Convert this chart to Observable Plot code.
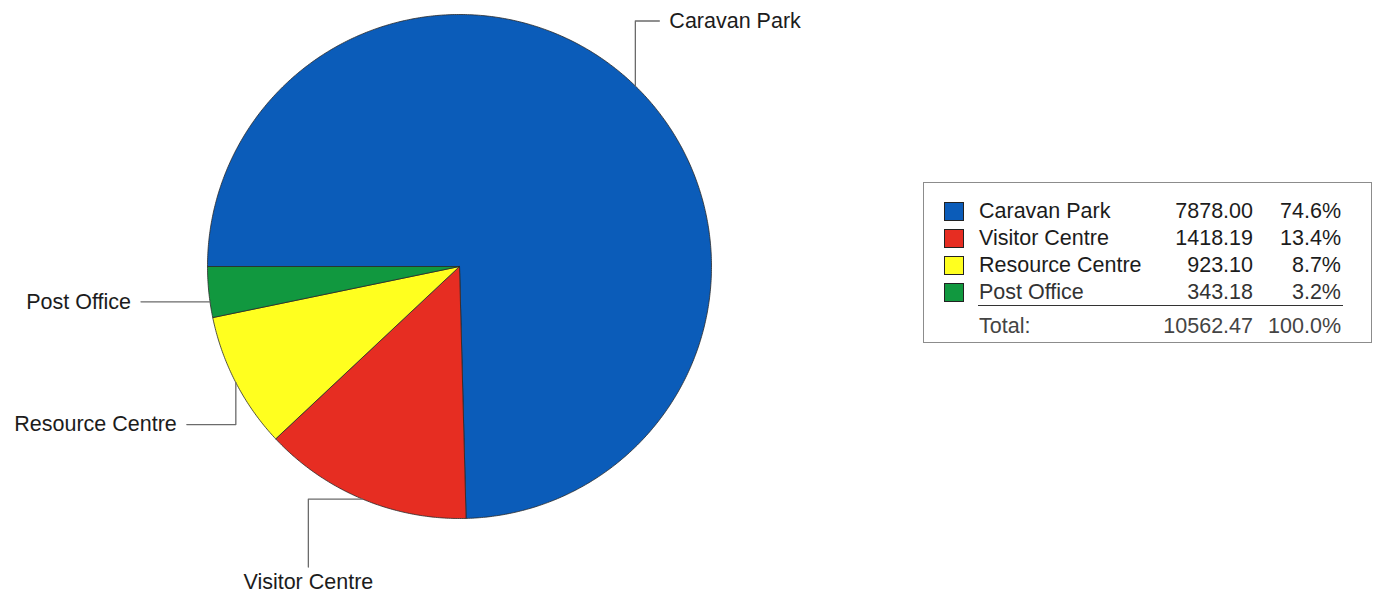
<!DOCTYPE html>
<html><head><meta charset="utf-8">
<script src="https://cdn.jsdelivr.net/npm/d3@7"></script>
<script src="https://cdn.jsdelivr.net/npm/@observablehq/plot@0.6"></script>
<style>
body{margin:0;background:#fff;font-family:"Liberation Sans",Arial,sans-serif;}
#wrap{position:relative;width:1377px;height:594px;overflow:hidden;}
#legend{position:absolute;left:923px;top:182px;width:449px;height:161px;border:1px solid #8c8c8c;box-sizing:border-box;background:#fff;}
.row{position:absolute;left:0;width:100%;height:26.7px;line-height:26.7px;font-size:21.5px;color:#1c1c1c;}
.sw{position:absolute;left:20px;top:4px;width:18px;height:17px;border:1.5px solid #222;}
.nm{position:absolute;left:55px;}
.vl{position:absolute;right:118px;}
.pc{position:absolute;right:30px;}
.sep{position:absolute;left:54px;width:365px;top:122px;border-top:1.5px solid #333;}
</style></head><body><div id="wrap"></div>
<script>
// ---- data ----
const categories = ["Caravan Park", "Visitor Centre", "Resource Centre", "Post Office"];
const values = [7878.00, 1418.19, 923.10, 343.18];
const colors = ["#0b5cb9", "#e62d22", "#ffff1f", "#11983f"];
const totalLabel = "Total:";

// ---- layout ----
const W = 1377, H = 594, CX = 459, CY = 266, R = 252;
const leaderLayout = {
  "Caravan Park":    {shift: 0, moves: [[0, -65], [24, 0]], anchor: "start", off: [10, 0]},
  "Visitor Centre":  {shift: 0, moves: [[-54, 0], [0, 68]], anchor: "middle", off: [0, 15]},
  "Resource Centre": {shift: 0, moves: [[0, 42], [-49, 0]], anchor: "end", off: [-10, 0]},
  "Post Office":     {shift: -2.2, moves: [[-69, 0]], anchor: "end", off: [-10, 0]}
};

const total = d3.sum(values);
const table = categories.map((name, i) => ({name, value: values[i], pct: values[i] / total}));
const arcs = d3.pie().value(d => d.value).sort(null).startAngle(-Math.PI / 2).endAngle(3 * Math.PI / 2)(table);

// slice polygons in radius units (y up)
const slicePts = [];
for (const a of arcs) {
  const n = Math.max(2, Math.ceil((a.endAngle - a.startAngle) / (Math.PI / 360)));
  slicePts.push({name: a.data.name, x: 0, y: 0});
  for (let k = 0; k <= n; k++) {
    const t = a.startAngle + (a.endAngle - a.startAngle) * k / n;
    slicePts.push({name: a.data.name, x: Math.sin(t), y: Math.cos(t)});
  }
  slicePts.push({name: a.data.name, x: 0, y: 0});
}

// leader lines
const leaderPts = [];
const textMarks = [];
for (const a of arcs) {
  const L = leaderLayout[a.data.name];
  const mid = (a.startAngle + a.endAngle) / 2 + L.shift * Math.PI / 180;
  let px = Math.sin(mid), py = Math.cos(mid);
  leaderPts.push({name: a.data.name, x: px, y: py});
  for (const [mx, my] of L.moves) {
    px += mx / R; py -= my / R;
    leaderPts.push({name: a.data.name, x: px, y: py});
  }
  textMarks.push(Plot.text([{name: a.data.name, x: px + L.off[0] / R, y: py - L.off[1] / R}], {
    x: "x", y: "y", text: "name", textAnchor: L.anchor, fontSize: 21.5, fill: "#1c1c1c"
  }));
}

const chart = Plot.plot({
  width: W, height: H,
  marginTop: 0, marginRight: 0, marginBottom: 0, marginLeft: 0,
  style: {fontFamily: "'Liberation Sans', Arial, sans-serif", background: "#fff", overflow: "visible"},
  x: {domain: [-CX / R, (W - CX) / R], axis: null},
  y: {domain: [-(H - CY) / R, CY / R], axis: null},
  color: {domain: categories, range: colors},
  marks: [
    Plot.line(slicePts, {x: "x", y: "y", z: "name", fill: "name", stroke: "#2a2a2a", strokeWidth: 0.8, strokeLinejoin: "round"}),
    Plot.line(leaderPts, {x: "x", y: "y", z: "name", stroke: "#6b6b6b", strokeWidth: 1.3}),
    ...textMarks
  ]
});

const wrap = document.getElementById("wrap");
wrap.appendChild(chart);

// legend table
const legend = document.createElement("div");
legend.id = "legend";
const rowTop = i => 15.4 + i * 26.7;
table.forEach((d, i) => {
  const r = document.createElement("div");
  r.className = "row";
  r.style.top = rowTop(i) + "px";
  if (i === table.length - 1) r.style.color = "#333";
  r.innerHTML = `<div class="sw" style="background:${colors[i]}"></div><span class="nm">${d.name}</span><span class="vl">${d.value.toFixed(2)}</span><span class="pc">${(d.pct * 100).toFixed(1)}%</span>`;
  legend.appendChild(r);
});
const sep = document.createElement("div");
sep.className = "sep";
legend.appendChild(sep);
const tr = document.createElement("div");
tr.className = "row";
tr.style.top = "130.4px";
tr.style.color = "#444";
tr.innerHTML = `<span class="nm">${totalLabel}</span><span class="vl">${total.toFixed(2)}</span><span class="pc">${(d3.sum(table, d => d.pct) * 100).toFixed(1)}%</span>`;
legend.appendChild(tr);
wrap.appendChild(legend);
</script>
</body></html>
